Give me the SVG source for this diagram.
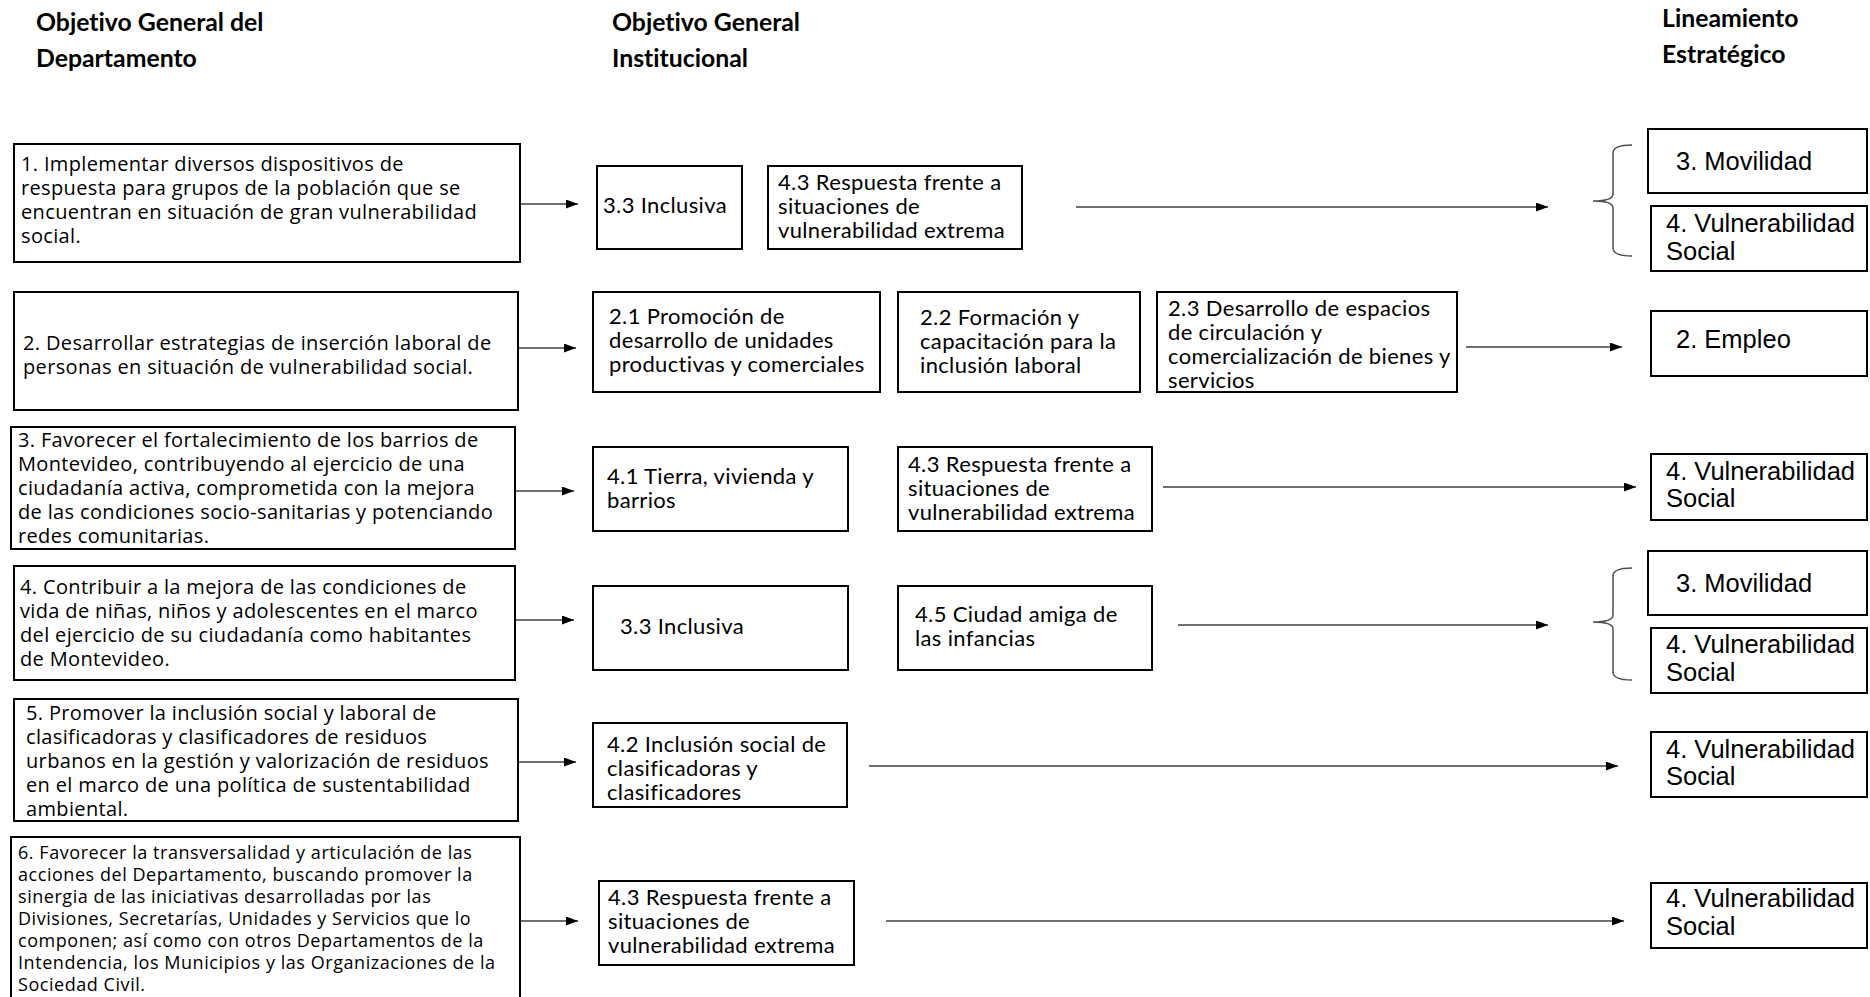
<svg xmlns="http://www.w3.org/2000/svg" width="1870" height="997" viewBox="0 0 1870 997">
<style>
.bg{fill:#fff}
.box{fill:#fff;stroke:#000;stroke-width:2}
text{font-variant-ligatures:none}
.hd{font-family:Lato,"Liberation Sans",sans-serif;font-weight:bold;font-size:24.8px;fill:#000}
.lt{font-family:"Open Sans","Liberation Sans",sans-serif;font-size:20px;letter-spacing:0.35px;fill:#000}
.lt6{font-family:"Open Sans","Liberation Sans",sans-serif;font-size:18px;letter-spacing:0.55px;fill:#000}
.mt{font-family:Lato,"Liberation Sans",sans-serif;font-size:22px;letter-spacing:0.35px;fill:#000}
.rt{font-family:"Liberation Sans",Arial,sans-serif;font-size:25.5px;fill:#000}
.conn{stroke:#404040;stroke-width:1.6;fill:none;marker-end:url(#ah)}
.brace{stroke:#505050;stroke-width:1.5;fill:none}
</style>
<defs>
<marker id="ah" markerUnits="userSpaceOnUse" markerWidth="13" markerHeight="10" refX="12" refY="4.5" orient="auto">
<path d="M0,0 L12,4.5 L0,9 z" fill="#000"/>
</marker>
</defs>
<rect class="bg" x="0" y="0" width="1870" height="997"/>
<g id="headers">
<text class="hd" x="36" y="31">Objetivo General del</text>
<text class="hd" x="36" y="67">Departamento</text>
<text class="hd" x="612" y="31">Objetivo General</text>
<text class="hd" x="612" y="67">Institucional</text>
<text class="hd" x="1662" y="27">Lineamiento</text>
<text class="hd" x="1662" y="63">Estratégico</text>
</g>
<g id="connectors">
<path class="conn" d="M521,204 L578,204"/>
<path class="conn" d="M1076,207 L1548,207"/>
<path class="conn" d="M519,348 L576,348"/>
<path class="conn" d="M1466,347 L1622,347"/>
<path class="conn" d="M516,491 L574,491"/>
<path class="conn" d="M1163,487 L1636,487"/>
<path class="conn" d="M516,620 L574,620"/>
<path class="conn" d="M1178,625 L1548,625"/>
<path class="conn" d="M519,762 L576,762"/>
<path class="conn" d="M869,766 L1618,766"/>
<path class="conn" d="M521,921 L578,921"/>
<path class="conn" d="M886,921 L1624,921"/>
<path class="brace" d="M1632,145 Q1613,145 1613,153 L1613,194 Q1613,201 1593,201 Q1613,201 1613,208 L1613,248 Q1613,256 1632,256"/>
<path class="brace" d="M1632,568 Q1613,568 1613,576 L1613,615 Q1613,622 1593,622 Q1613,622 1613,629 L1613,672 Q1613,680 1632,680"/>
</g>
<g id="obj1">
<rect class="box" x="14" y="144" width="506" height="118"/>
<text class="lt" x="21" y="171">1. Implementar diversos dispositivos de</text>
<text class="lt" x="21" y="195">respuesta para grupos de la población que se</text>
<text class="lt" x="21" y="219">encuentran en situación de gran vulnerabilidad</text>
<text class="lt" x="21" y="243">social.</text>
</g>
<g id="r1-33">
<rect class="box" x="597" y="166" width="145" height="83"/>
<text class="mt" x="603" y="213">3.3 Inclusiva</text>
</g>
<g id="r1-43">
<rect class="box" x="768" y="166" width="254" height="83"/>
<text class="mt" x="778" y="190">4.3 Respuesta frente a</text>
<text class="mt" x="778" y="214">situaciones de</text>
<text class="mt" x="778" y="238">vulnerabilidad extrema</text>
</g>
<g id="r1-mov">
<rect class="box" x="1648" y="129" width="219" height="64"/>
<text class="rt" x="1676" y="170">3. Movilidad</text>
</g>
<g id="r1-vul">
<rect class="box" x="1651" y="206" width="216" height="65"/>
<text class="rt" x="1666" y="232">4. Vulnerabilidad</text>
<text class="rt" x="1666" y="260">Social</text>
</g>
<g id="obj2">
<rect class="box" x="14" y="292" width="504" height="118"/>
<text class="lt" x="23" y="350">2. Desarrollar estrategias de inserción laboral de</text>
<text class="lt" x="23" y="374">personas en situación de vulnerabilidad social.</text>
</g>
<g id="r2-21">
<rect class="box" x="593" y="292" width="287" height="100"/>
<text class="mt" x="609" y="324">2.1 Promoción de</text>
<text class="mt" x="609" y="348">desarrollo de unidades</text>
<text class="mt" x="609" y="372">productivas y comerciales</text>
</g>
<g id="r2-22">
<rect class="box" x="898" y="292" width="242" height="100"/>
<text class="mt" x="920" y="325">2.2 Formación y</text>
<text class="mt" x="920" y="349">capacitación para la</text>
<text class="mt" x="920" y="373">inclusión laboral</text>
</g>
<g id="r2-23">
<rect class="box" x="1157" y="292" width="300" height="100"/>
<text class="mt" x="1168" y="316">2.3 Desarrollo de espacios</text>
<text class="mt" x="1168" y="340">de circulación y</text>
<text class="mt" x="1168" y="364">comercialización de bienes y</text>
<text class="mt" x="1168" y="388">servicios</text>
</g>
<g id="r2-emp">
<rect class="box" x="1651" y="311" width="216" height="65"/>
<text class="rt" x="1676" y="348">2. Empleo</text>
</g>
<g id="obj3">
<rect class="box" x="11" y="427" width="504" height="122"/>
<text class="lt" x="18" y="447">3. Favorecer el fortalecimiento de los barrios de</text>
<text class="lt" x="18" y="471">Montevideo, contribuyendo al ejercicio de una</text>
<text class="lt" x="18" y="495">ciudadanía activa, comprometida con la mejora</text>
<text class="lt" x="18" y="519">de las condiciones socio-sanitarias y potenciando</text>
<text class="lt" x="18" y="543">redes comunitarias.</text>
</g>
<g id="r3-41">
<rect class="box" x="593" y="447" width="255" height="84"/>
<text class="mt" x="607" y="484">4.1 Tierra, vivienda y</text>
<text class="mt" x="607" y="508">barrios</text>
</g>
<g id="r3-43">
<rect class="box" x="898" y="447" width="254" height="84"/>
<text class="mt" x="908" y="472">4.3 Respuesta frente a</text>
<text class="mt" x="908" y="496">situaciones de</text>
<text class="mt" x="908" y="520">vulnerabilidad extrema</text>
</g>
<g id="r3-vul">
<rect class="box" x="1651" y="454" width="216" height="66"/>
<text class="rt" x="1666" y="480">4. Vulnerabilidad</text>
<text class="rt" x="1666" y="507">Social</text>
</g>
<g id="obj4">
<rect class="box" x="14" y="566" width="501" height="114"/>
<text class="lt" x="20" y="594">4. Contribuir a la mejora de las condiciones de</text>
<text class="lt" x="20" y="618">vida de niñas, niños y adolescentes en el marco</text>
<text class="lt" x="20" y="642">del ejercicio de su ciudadanía como habitantes</text>
<text class="lt" x="20" y="666">de Montevideo.</text>
</g>
<g id="r4-33">
<rect class="box" x="593" y="586" width="255" height="84"/>
<text class="mt" x="620" y="634">3.3 Inclusiva</text>
</g>
<g id="r4-45">
<rect class="box" x="898" y="586" width="254" height="84"/>
<text class="mt" x="915" y="622">4.5 Ciudad amiga de</text>
<text class="mt" x="915" y="646">las infancias</text>
</g>
<g id="r4-mov">
<rect class="box" x="1648" y="551" width="219" height="64"/>
<text class="rt" x="1676" y="592">3. Movilidad</text>
</g>
<g id="r4-vul">
<rect class="box" x="1651" y="628" width="216" height="65"/>
<text class="rt" x="1666" y="653">4. Vulnerabilidad</text>
<text class="rt" x="1666" y="681">Social</text>
</g>
<g id="obj5">
<rect class="box" x="14" y="699" width="504" height="122"/>
<text class="lt" x="26" y="720">5. Promover la inclusión social y laboral de</text>
<text class="lt" x="26" y="744">clasificadoras y clasificadores de residuos</text>
<text class="lt" x="26" y="768">urbanos en la gestión y valorización de residuos</text>
<text class="lt" x="26" y="792">en el marco de una política de sustentabilidad</text>
<text class="lt" x="26" y="816">ambiental.</text>
</g>
<g id="r5-42">
<rect class="box" x="593" y="723" width="254" height="84"/>
<text class="mt" x="607" y="752">4.2 Inclusión social de</text>
<text class="mt" x="607" y="776">clasificadoras y</text>
<text class="mt" x="607" y="800">clasificadores</text>
</g>
<g id="r5-vul">
<rect class="box" x="1651" y="732" width="216" height="65"/>
<text class="rt" x="1666" y="758">4. Vulnerabilidad</text>
<text class="rt" x="1666" y="785">Social</text>
</g>
<g id="obj6">
<rect class="box" x="11" y="837" width="509" height="170"/>
<text class="lt6" x="18" y="859">6. Favorecer la transversalidad y articulación de las</text>
<text class="lt6" x="18" y="881">acciones del Departamento, buscando promover la</text>
<text class="lt6" x="18" y="903">sinergia de las iniciativas desarrolladas por las</text>
<text class="lt6" x="18" y="925">Divisiones, Secretarías, Unidades y Servicios que lo</text>
<text class="lt6" x="18" y="947">componen; así como con otros Departamentos de la</text>
<text class="lt6" x="18" y="969">Intendencia, los Municipios y las Organizaciones de la</text>
<text class="lt6" x="18" y="991">Sociedad Civil.</text>
</g>
<g id="r6-43">
<rect class="box" x="599" y="881" width="255" height="84"/>
<text class="mt" x="608" y="905">4.3 Respuesta frente a</text>
<text class="mt" x="608" y="929">situaciones de</text>
<text class="mt" x="608" y="953">vulnerabilidad extrema</text>
</g>
<g id="r6-vul">
<rect class="box" x="1651" y="883" width="216" height="65"/>
<text class="rt" x="1666" y="907">4. Vulnerabilidad</text>
<text class="rt" x="1666" y="935">Social</text>
</g>
</svg>
